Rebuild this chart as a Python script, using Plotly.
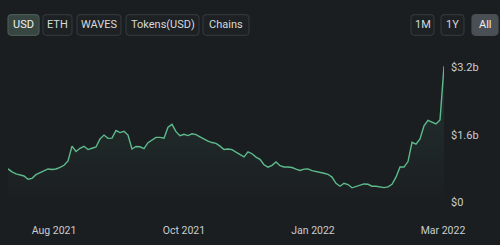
import pandas as pd
import plotly.graph_objects as go

# ---- data (values in billions USD) ----
start_date = "2021-07-12"
step = "2D"
tvl_usd_b = [
    0.789, 0.717, 0.669, 0.638, 0.620, 0.541, 0.563, 0.651, 0.696, 0.739,
    0.786, 0.773, 0.786, 0.825, 0.874, 0.976, 1.330, 1.201, 1.278, 1.325,
    1.248, 1.280, 1.309, 1.503, 1.593, 1.514, 1.521, 1.701, 1.652, 1.683,
    1.593, 1.262, 1.321, 1.314, 1.271, 1.411, 1.472, 1.539, 1.539, 1.519,
    1.780, 1.848, 1.674, 1.577, 1.611, 1.580, 1.623, 1.604, 1.553, 1.496,
    1.449, 1.415, 1.395, 1.330, 1.251, 1.262, 1.248, 1.188, 1.127, 1.075,
    1.194, 1.149, 1.068, 1.014, 0.886, 0.829, 0.874, 0.953, 0.863, 0.834,
    0.834, 0.820, 0.782, 0.750, 0.782, 0.789, 0.748, 0.721, 0.699, 0.685,
    0.660, 0.593, 0.444, 0.376, 0.446, 0.415, 0.338, 0.372, 0.401, 0.430,
    0.421, 0.376, 0.374, 0.361, 0.343, 0.361, 0.421, 0.590, 0.834, 0.832,
    0.962, 1.420, 1.375, 1.501, 1.812, 1.945, 1.900, 1.857, 1.954, 3.229,
]
x_tick_dates = ["2021-08-04", "2021-10-08", "2021-12-11 12:00", "2022-02-14 12:00"]
x_tick_labels = ["Aug 2021", "Oct 2021", "Jan 2022", "Mar 2022"]
y_tick_vals = [0, 1.6, 3.2]
y_tick_labels = ["$0", "$1.6b", "$3.2b"]
left_buttons = ["USD", "ETH", "WAVES", "Tokens(USD)", "Chains"]
right_buttons = ["1M", "1Y", "All"]

dates = pd.date_range(start_date, periods=len(tvl_usd_b), freq=step)

# ---- layout geometry ----
W, H = 500, 245
ML, MR, MT, MB = 8, 56, 60, 35
PW, PH = W - ML - MR, H - MT - MB
BG = "#1b1e21"
LINE = "#5dbb8c"

def px(x):
    return (x - ML) / PW

def py(y):
    return (H - MB - y) / PH

fig = go.Figure()
fig.add_trace(go.Scatter(
    x=dates, y=tvl_usd_b, mode="lines",
    line=dict(color=LINE, width=1.4),
    fill="tozeroy",
    fillgradient=dict(type="vertical",
                      colorscale=[[0, "rgba(93,187,140,0.0)"], [1, "rgba(93,187,140,0.13)"]]),
    hoverinfo="skip",
))

shapes = []
annotations = []

def rounded(x0, y0, x1, y1, r=4):
    rx, ry = r / PW, r / PH
    a0, a1 = px(x0), px(x1)
    b0, b1 = py(y1), py(y0)  # bottom, top in paper
    return (f"M {a0+rx},{b0} L {a1-rx},{b0} Q {a1},{b0} {a1},{b0+ry} "
            f"L {a1},{b1-ry} Q {a1},{b1} {a1-rx},{b1} L {a0+rx},{b1} "
            f"Q {a0},{b1} {a0},{b1-ry} L {a0},{b0+ry} Q {a0},{b0} {a0+rx},{b0} Z")

left_boxes = [(8, 39), (43, 72), (77, 121), (126, 199), (203, 249)]
right_boxes = [(411, 434), (441, 464), (472, 498)]
BY0, BY1 = 12, 34

def add_button(label, x0, x1, active, active_fill, active_line):
    shapes.append(dict(type="path", xref="paper", yref="paper",
                       path=rounded(x0, BY0, x1, BY1),
                       fillcolor=active_fill if active else "#1d2124",
                       line=dict(color=active_line if active else "#30373a", width=1.2)))
    annotations.append(dict(xref="paper", yref="paper",
                            x=px((x0 + x1) / 2), y=py((BY0 + BY1) / 2),
                            xanchor="center", yanchor="middle",
                            text=label, showarrow=False,
                            font=dict(size=11, color="#eef0f0" if active else "#d6dadb")))

for i, (label, (x0, x1)) in enumerate(zip(left_buttons, left_boxes)):
    add_button(label, x0, x1, i == 0, "#384642", "#4a5854")

for label, (x0, x1) in zip(right_buttons, right_boxes):
    add_button(label, x0, x1, label == "All", "#4a4f55", "#4a4f55")

fig.update_layout(
    width=W, height=H,
    margin=dict(l=ML, r=MR, t=MT, b=MB, pad=0),
    paper_bgcolor=BG, plot_bgcolor=BG,
    showlegend=False,
    font=dict(family="Roboto, Arial, sans-serif", color="#c9cdd0"),
    shapes=shapes, annotations=annotations,
    hovermode=False,
    xaxis=dict(range=[dates[0], dates[-1]], showgrid=False, zeroline=False, showline=False,
               ticks="", tickvals=x_tick_dates, ticktext=x_tick_labels,
               tickfont=dict(size=10.5, color="#c9cdd0"), ticklabelstandoff=20, fixedrange=True),
    yaxis=dict(range=[0, 3.38], side="right", showgrid=False, zeroline=False, showline=False,
               ticks="", tickvals=y_tick_vals, ticktext=y_tick_labels,
               tickfont=dict(size=11, color="#c9cdd0"), ticklabelstandoff=6, fixedrange=True),
)

fig.write_html("out.html", config={"displayModeBar": False})
